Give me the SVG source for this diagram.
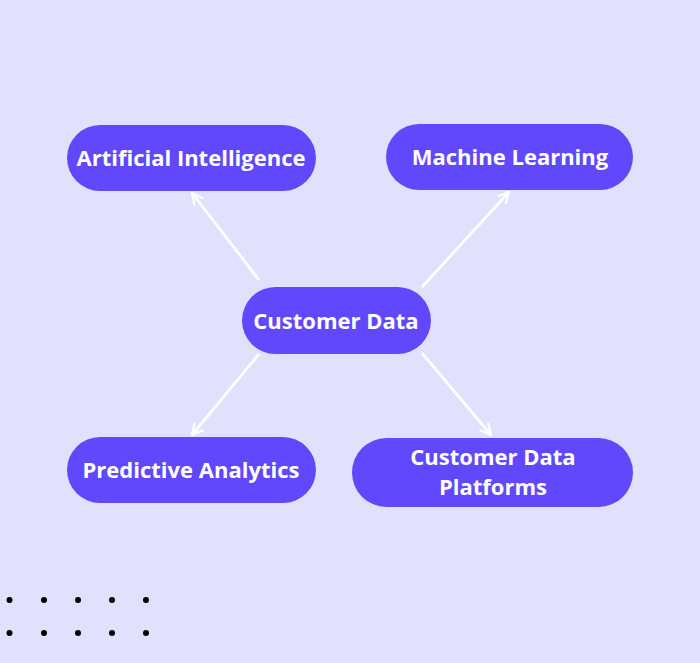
<svg xmlns="http://www.w3.org/2000/svg" width="700" height="663" viewBox="0 0 700 663">
<style>
.n{fill:#6148fc}
.t{fill:#fff;font-family:"Open Sans",sans-serif;font-weight:bold;font-size:22px;text-anchor:middle}
.c{stroke:#fff;stroke-width:2.8;fill:none;marker-end:url(#a)}
</style>
<defs><marker id="a" viewBox="0 0 10 10" refX="9" refY="5" markerWidth="5" markerHeight="5" orient="auto" markerUnits="strokeWidth"><path d="M1,1 L9,5 L1,9" fill="none" stroke="#fff" stroke-width="1.6"/></marker></defs>
<rect width="700" height="663" fill="#e1e1fe"/>
<g id="connectors">
<line class="c" x1="259" y1="280" x2="192" y2="193"/>
<line class="c" x1="422" y1="287" x2="509" y2="192"/>
<line class="c" x1="259" y1="354" x2="192" y2="435"/>
<line class="c" x1="422" y1="353" x2="491" y2="435"/>
</g>
<g id="ai"><rect class="n" x="67" y="125" width="249" height="66" rx="33"/><text class="t" x="191" y="166">Artificial Intelligence</text></g>
<g id="ml"><rect class="n" x="386" y="124" width="247" height="66" rx="33"/><text class="t" x="510" y="165">Machine Learning</text></g>
<g id="cd"><rect class="n" x="242" y="287" width="189" height="67" rx="33.5"/><text class="t" x="336" y="329">Customer Data</text></g>
<g id="pa"><rect class="n" x="67" y="437" width="249" height="66" rx="33"/><text class="t" x="191" y="478">Predictive Analytics</text></g>
<g id="cdp"><rect class="n" x="352" y="438" width="281" height="69" rx="34.5"/><text class="t" x="493" y="465">Customer Data</text><text class="t" x="493" y="495">Platforms</text></g>
<g id="dots" fill="#000">
<circle cx="9.5" cy="600" r="3"/><circle cx="44" cy="600" r="3"/><circle cx="78" cy="600" r="3"/><circle cx="112" cy="600" r="3"/><circle cx="146" cy="600" r="3"/>
<circle cx="9.5" cy="633" r="3"/><circle cx="44" cy="633" r="3"/><circle cx="78" cy="633" r="3"/><circle cx="112" cy="633" r="3"/><circle cx="146" cy="633" r="3"/>
</g>
</svg>
